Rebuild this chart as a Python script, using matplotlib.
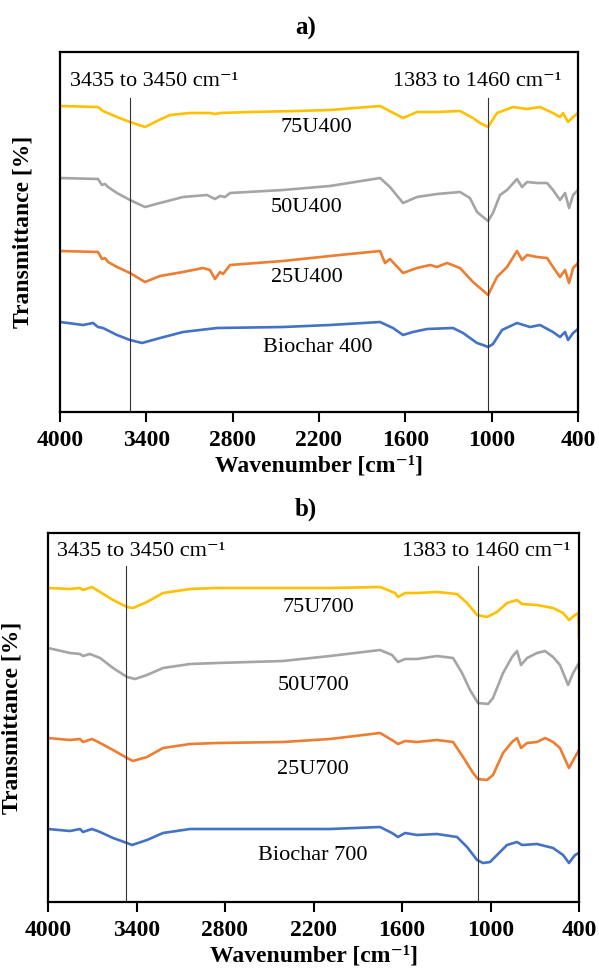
import matplotlib
matplotlib.use("Agg")
import matplotlib.pyplot as plt

plt.rcParams["font.family"] = ["Liberation Serif", "DejaVu Serif"]
plt.rcParams["mathtext.default"] = "regular"

BLUE = "#4472C4"
ORANGE = "#ED7D31"
GREY = "#A5A5A5"
YELLOW = "#FFC000"

# ---- panel a) : 400 C chars (relative transmittance, offset curves)
wn_75u400 = [4000, 3736, 3701, 3604, 3514, 3409, 3326, 3236, 3097, 2957, 2923, 2888, 2680, 2353, 2124,
             1776, 1616, 1519, 1380, 1220, 1130, 1081, 1025, 963, 852, 754, 664, 574, 525, 504, 469, 434, 400]
t_75u400 = [306, 305, 301, 295, 290, 285, 291, 297, 299, 299, 298, 299, 300, 301, 302,
            306, 294, 300, 300, 301, 294, 289, 285, 299, 305, 303, 305, 299, 295, 299, 290, 295, 299]

wn_50u400 = [4000, 3736, 3708, 3687, 3666, 3604, 3514, 3409, 3305, 3145, 2978, 2923, 2888, 2853, 2818,
             2450, 2124, 1776, 1707, 1616, 1519, 1380, 1220, 1151, 1102, 1060, 1025, 991, 942, 893,
             824, 789, 754, 685, 615, 574, 525, 490, 462, 434, 400]
t_50u400 = [234, 233, 227, 228, 225, 219, 212, 205, 209, 215, 217, 213, 216, 215, 219,
            222, 226, 234, 225, 209, 215, 218, 220, 214, 200, 195, 191, 199, 217, 222,
            233, 225, 230, 229, 229, 222, 212, 219, 204, 217, 222]

wn_25u400 = [4000, 3736, 3708, 3687, 3666, 3604, 3514, 3409, 3305, 3145, 3006, 2958, 2923, 2888, 2867,
             2818, 2450, 2124, 1776, 1741, 1707, 1616, 1519, 1428, 1380, 1310, 1220, 1130, 1081, 1025,
             963, 893, 824, 789, 754, 685, 615, 574, 525, 490, 462, 434, 400]
t_25u400 = [161, 160, 153, 154, 150, 145, 139, 130, 136, 140, 144, 142, 133, 140, 138,
            147, 151, 156, 161, 149, 153, 139, 144, 147, 145, 149, 144, 130, 124, 117,
            135, 145, 161, 152, 157, 155, 154, 145, 135, 142, 129, 144, 149]

wn_bc400 = [4000, 3840, 3771, 3736, 3701, 3604, 3514, 3430, 3305, 3145, 2909, 2450, 2124, 1776, 1686,
            1616, 1547, 1449, 1269, 1199, 1102, 1060, 1025, 991, 928, 824, 733, 664, 574, 525,
            490, 469, 434, 400]
t_bc400 = [90, 87, 89, 85, 84, 77, 72, 69, 74, 80, 84, 85, 87, 90, 84,
           77, 80, 83, 84, 79, 69, 67, 65, 68, 82, 89, 85, 87, 80, 75,
           80, 72, 79, 83]

# ---- panel b) : 700 C chars
wn_75u700 = [4000, 3851, 3783, 3763, 3702, 3647, 3559, 3464, 3424, 3329, 3220, 3037, 2854, 2407, 2088,
             1749, 1647, 1627, 1579, 1498, 1363, 1227, 1159, 1091, 1024, 956, 888, 820, 786, 685,
             576, 508, 468, 427, 403, 400]
t_75u700 = [314, 313, 314, 312, 315, 310, 302, 295, 294, 300, 309, 313, 314, 314, 314,
            315, 309, 305, 309, 309, 310, 308, 299, 287, 285, 290, 299, 302, 298, 297,
            294, 289, 282, 287, 289, 265]

wn_50u700 = [4000, 3851, 3783, 3763, 3716, 3647, 3559, 3464, 3410, 3329, 3220, 3037, 2854, 2407, 2088,
             1749, 1668, 1627, 1579, 1498, 1363, 1254, 1193, 1139, 1085, 1017, 983, 915, 854, 820,
             793, 752, 685, 630, 576, 529, 474, 440, 400]
t_50u700 = [254, 249, 248, 246, 248, 244, 234, 225, 223, 227, 234, 238, 239, 241, 246,
            252, 247, 240, 243, 243, 246, 244, 229, 212, 199, 198, 204, 229, 245, 251,
            237, 244, 249, 251, 245, 237, 217, 229, 239]

wn_25u700 = [4000, 3851, 3783, 3763, 3702, 3647, 3559, 3464, 3424, 3329, 3220, 3037, 2854, 2407, 2088,
             1749, 1668, 1627, 1579, 1498, 1363, 1254, 1186, 1118, 1085, 1024, 983, 915, 854, 820,
             793, 752, 685, 630, 576, 529, 468, 427, 400]
t_25u700 = [164, 162, 163, 160, 163, 159, 152, 144, 141, 145, 154, 158, 159, 160, 163,
            169, 162, 158, 161, 160, 162, 160, 145, 129, 123, 122, 127, 149, 160, 164,
            154, 159, 160, 164, 160, 154, 134, 145, 152]

wn_bc700 = [4000, 3851, 3783, 3763, 3702, 3647, 3559, 3464, 3430, 3329, 3220, 3037, 2854, 2407, 2088,
            1749, 1668, 1627, 1579, 1498, 1363, 1227, 1159, 1091, 1051, 1003, 956, 888, 820, 786,
            685, 576, 508, 468, 427, 400]
t_bc700 = [73, 71, 73, 70, 73, 70, 64, 59, 57, 62, 69, 73, 73, 73, 73,
           75, 69, 65, 69, 67, 68, 65, 55, 42, 39, 40, 47, 57, 60, 57,
           58, 54, 47, 39, 47, 49]

xticks = [4000, 3400, 2800, 2200, 1600, 1000, 400]

panels = [
    {
        "title": "a)",
        "series": [(wn_bc400, t_bc400, BLUE), (wn_25u400, t_25u400, ORANGE),
                   (wn_50u400, t_50u400, GREY), (wn_75u400, t_75u400, YELLOW)],
        "labels": [("75U400", 2221, 285), ("50U400", 2283, 205), ("25U400", 2283, 135), ("Biochar 400", 2207, 65)],
        "vlines": [3514, 1026],
        "vtop": 314,
        "notes": [(3930, 330, "left"), (518, 330, "right")],
        "ymax": 360,
    },
    {
        "title": "b)",
        "series": [(wn_bc700, t_bc700, BLUE), (wn_25u700, t_25u700, ORANGE),
                   (wn_50u700, t_50u700, GREY), (wn_75u700, t_75u700, YELLOW)],
        "labels": [("75U700", 2169, 294), ("50U700", 2197, 217), ("25U700", 2203, 132), ("Biochar 700", 2203, 46)],
        "vlines": [3471, 1085],
        "vtop": 336,
        "notes": [(3939, 350, "left"), (461, 350, "right")],
        "ymax": 369,
    },
]

W, H = 599, 971
fig = plt.figure(figsize=(W / 100, H / 100), dpi=100)

# axes boxes in pixels: left, top, right, bottom
boxes = [(60, 52, 578, 412), (48, 533, 579, 902)]
title_y = [28, 509]
ylab_x = [23, 12]
INV = "cm$^{\\mathregular{-1}}$"

for p, (l, t, r, b), ty, yx in zip(panels, boxes, title_y, ylab_x):
    ax = fig.add_axes([l / W, 1 - b / H, (r - l) / W, (b - t) / H])
    for wn, tr, c in p["series"]:
        ax.plot(wn, tr, color=c, lw=1.9, solid_joinstyle="round")
    for wv in p["vlines"]:
        ax.plot([wv, wv], [0, p["vtop"]], color="#333333", lw=0.8)
    for txt, x, y in p["labels"]:
        ax.text(x, y, txt, ha="center", va="center", fontsize=16)
    left_note, right_note = p["notes"]
    ax.text(left_note[0], left_note[1], "3435 to 3450 cm\u207b\u00b9", ha="left", va="center", fontsize=16)
    ax.text(right_note[0], right_note[1], "1383 to 1460 cm\u207b\u00b9", ha="right", va="center", fontsize=16)

    ax.set_xlim(4000, 400)
    ax.set_ylim(0, p["ymax"])
    ax.set_xticks(xticks)
    ax.set_xticklabels([str(v) for v in xticks], fontweight="bold", fontsize=17)
    ax.set_yticks([])
    ax.tick_params(axis="x", direction="out", length=7, width=1.5, pad=6)
    for s in ax.spines.values():
        s.set_linewidth(1.6)
    ax.set_xlabel("Wavenumber [cm\u207b\u00b9]", fontweight="bold", fontsize=17, labelpad=3)
    fig.text(yx / W, 1 - (t + b) / 2 / H, "Transmittance [%]", rotation=90, ha="center", va="center",
             fontweight="bold", fontsize=17)
    fig.text(306 / W, 1 - ty / H, p["title"], ha="center", va="center", fontweight="bold", fontsize=18)

fig.savefig("out.png", dpi=100)
